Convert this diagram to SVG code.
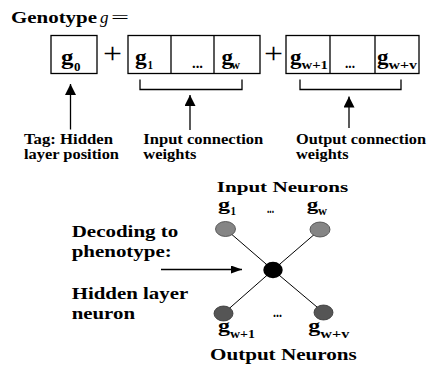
<svg xmlns="http://www.w3.org/2000/svg" width="427" height="366" viewBox="0 0 427 366">
<style>
text{font-family:"Liberation Serif","Times New Roman",serif;font-weight:bold;fill:#000;}
.box{fill:#fff;stroke:#000;stroke-width:1.3;}
.ln{fill:none;stroke:#000;stroke-width:1.3;}
.edge{stroke:#000;stroke-width:1;}
.lbl{font-size:15px;}
.big{font-size:17.5px;}
.g{font-size:20px;}
.sub{font-size:13px;}
.plus{font-size:30px;font-weight:normal;}
.dots{font-size:14px;}
.ng{font-size:16px;}
.ns{font-size:12px;}
</style>
<defs>
<marker id="ah" viewBox="0 0 10 10" refX="10" refY="5" markerWidth="11" markerHeight="11" markerUnits="userSpaceOnUse" orient="auto" preserveAspectRatio="none"><path d="M0,0 L10,5 L0,10 z" fill="#000"/></marker>
<marker id="ah2" viewBox="0 0 10 10" refX="10" refY="5" markerWidth="11" markerHeight="8" markerUnits="userSpaceOnUse" orient="auto" preserveAspectRatio="none"><path d="M0,0 L10,5 L0,10 z" fill="#000"/></marker>
</defs>

<g id="title">
<text class="big" x="11" y="23" textLength="86" lengthAdjust="spacingAndGlyphs">Genotype</text>
<text x="100" y="23" style="font-size:17.5px;font-weight:normal;font-style:italic" textLength="8.5" lengthAdjust="spacingAndGlyphs">g</text>
<text x="111" y="23" style="font-size:17.5px;font-weight:normal" textLength="18" lengthAdjust="spacingAndGlyphs">=</text>
</g>

<g id="gene-tag">
<rect class="box" x="51" y="35.5" width="46" height="38"/>
<text class="g" x="61" y="64" textLength="12.5" lengthAdjust="spacingAndGlyphs">g</text>
<text class="sub" x="74" y="71" textLength="6.5" lengthAdjust="spacingAndGlyphs">0</text>
</g>

<text class="plus" x="103" y="62.5" textLength="19" lengthAdjust="spacingAndGlyphs">+</text>

<g id="gene-input">
<rect class="box" x="128" y="35.5" width="132" height="38"/>
<line class="ln" x1="171" y1="35.5" x2="171" y2="73.5"/>
<line class="ln" x1="214" y1="35.5" x2="214" y2="73.5"/>
<text class="g" x="135" y="63.5" textLength="11.7" lengthAdjust="spacingAndGlyphs">g</text>
<text class="sub" x="147.5" y="69" textLength="5.5" lengthAdjust="spacingAndGlyphs">1</text>
<text class="dots" x="192" y="67.5" textLength="11" lengthAdjust="spacingAndGlyphs">...</text>
<text class="g" x="221.5" y="63.5" textLength="11.5" lengthAdjust="spacingAndGlyphs">g</text>
<text class="sub" x="231" y="69" textLength="9" lengthAdjust="spacingAndGlyphs">w</text>
</g>

<text class="plus" x="264" y="62.5" textLength="19" lengthAdjust="spacingAndGlyphs">+</text>

<g id="gene-output">
<rect class="box" x="286" y="35.5" width="133" height="38"/>
<line class="ln" x1="330" y1="35.5" x2="330" y2="73.5"/>
<line class="ln" x1="375" y1="35.5" x2="375" y2="73.5"/>
<text class="g" x="290" y="63.5" textLength="11.5" lengthAdjust="spacingAndGlyphs">g</text>
<text class="sub" x="301.5" y="69" textLength="26.5" lengthAdjust="spacingAndGlyphs">w+1</text>
<text class="dots" x="345" y="67.5" textLength="10" lengthAdjust="spacingAndGlyphs">...</text>
<text class="g" x="377" y="63.5" textLength="11.5" lengthAdjust="spacingAndGlyphs">g</text>
<text class="sub" x="388.5" y="69" textLength="28.5" lengthAdjust="spacingAndGlyphs">w+v</text>
</g>

<g id="connectors">
<path class="ln" d="M140,79.5 V89.5 H242 V79.5"/>
<path class="ln" d="M300,79.5 V89.5 H401 V79.5"/>
<line class="ln" x1="70.5" y1="129.5" x2="70.5" y2="84" marker-end="url(#ah)"/>
<line class="ln" x1="190" y1="130" x2="190" y2="95" marker-end="url(#ah)"/>
<line class="ln" x1="349" y1="128" x2="349" y2="96.5" marker-end="url(#ah)"/>
<line class="ln" x1="161" y1="269.5" x2="242" y2="269.5" marker-end="url(#ah2)"/>
<line class="edge" x1="225.5" y1="229" x2="273" y2="270"/>
<line class="edge" x1="320" y1="229.5" x2="273" y2="270"/>
<line class="edge" x1="223.5" y1="313.5" x2="273" y2="270"/>
<line class="edge" x1="323.5" y1="312.5" x2="273" y2="270"/>
</g>

<g id="label-tag">
<text class="lbl" x="24" y="143.5" textLength="89" lengthAdjust="spacingAndGlyphs">Tag: Hidden</text>
<text class="lbl" x="24" y="159" textLength="95" lengthAdjust="spacingAndGlyphs">layer position</text>
</g>
<g id="label-input">
<text class="lbl" x="143.3" y="143.5" textLength="120" lengthAdjust="spacingAndGlyphs">Input connection</text>
<text class="lbl" x="143.3" y="158.5" textLength="53" lengthAdjust="spacingAndGlyphs">weights</text>
</g>
<g id="label-output">
<text class="lbl" x="296" y="143.5" textLength="130" lengthAdjust="spacingAndGlyphs">Output connection</text>
<text class="lbl" x="296" y="158.5" textLength="52.5" lengthAdjust="spacingAndGlyphs">weights</text>
</g>

<g id="label-decoding">
<text class="big" x="71.7" y="236.5" textLength="106.6" lengthAdjust="spacingAndGlyphs">Decoding to</text>
<text class="big" x="71.7" y="256.5" textLength="100" lengthAdjust="spacingAndGlyphs">phenotype:</text>
<text class="big" x="71.7" y="299" textLength="116.6" lengthAdjust="spacingAndGlyphs">Hidden layer</text>
<text class="big" x="71.7" y="319" textLength="63.3" lengthAdjust="spacingAndGlyphs">neuron</text>
</g>

<g id="label-input-neurons">
<text style="font-size:15px" x="216.7" y="191.5" textLength="131.6" lengthAdjust="spacingAndGlyphs">Input Neurons</text>
<text class="ng" x="218" y="209.5" textLength="12" lengthAdjust="spacingAndGlyphs">g</text>
<text class="ns" x="230.5" y="215" textLength="5.5" lengthAdjust="spacingAndGlyphs">1</text>
<text class="dots" x="267" y="213" textLength="7" lengthAdjust="spacingAndGlyphs">...</text>
<text class="ng" x="306.7" y="209.5" textLength="11.5" lengthAdjust="spacingAndGlyphs">g</text>
<text class="ns" x="318" y="215" textLength="9" lengthAdjust="spacingAndGlyphs">w</text>
</g>

<g id="node-in1"><ellipse cx="225.5" cy="229" rx="10" ry="7.5" fill="#858585" stroke="#444" stroke-width="0.8"/></g>
<g id="node-inw"><ellipse cx="320" cy="229.5" rx="10" ry="7.5" fill="#858585" stroke="#444" stroke-width="0.8"/></g>
<g id="node-hidden"><ellipse cx="273" cy="270" rx="9.7" ry="8.3" fill="#000"/></g>
<g id="node-out1"><ellipse cx="223.5" cy="313.5" rx="9.5" ry="7.5" fill="#555" stroke="#333" stroke-width="0.8"/></g>
<g id="node-outv"><ellipse cx="323.5" cy="312.5" rx="9.5" ry="7.5" fill="#555" stroke="#333" stroke-width="0.8"/></g>

<g id="label-output-neurons">
<text class="dots" x="273" y="317" textLength="9" lengthAdjust="spacingAndGlyphs">...</text>
<text style="font-size:18px" x="218" y="331.5" textLength="12" lengthAdjust="spacingAndGlyphs">g</text>
<text class="ns" x="230" y="338" textLength="25" lengthAdjust="spacingAndGlyphs">w+1</text>
<text style="font-size:18px" x="308.3" y="331.5" textLength="12" lengthAdjust="spacingAndGlyphs">g</text>
<text class="ns" x="320.3" y="338" textLength="29" lengthAdjust="spacingAndGlyphs">w+v</text>
<text style="font-size:16px" x="210" y="360" textLength="146.7" lengthAdjust="spacingAndGlyphs">Output Neurons</text>
</g>
</svg>
